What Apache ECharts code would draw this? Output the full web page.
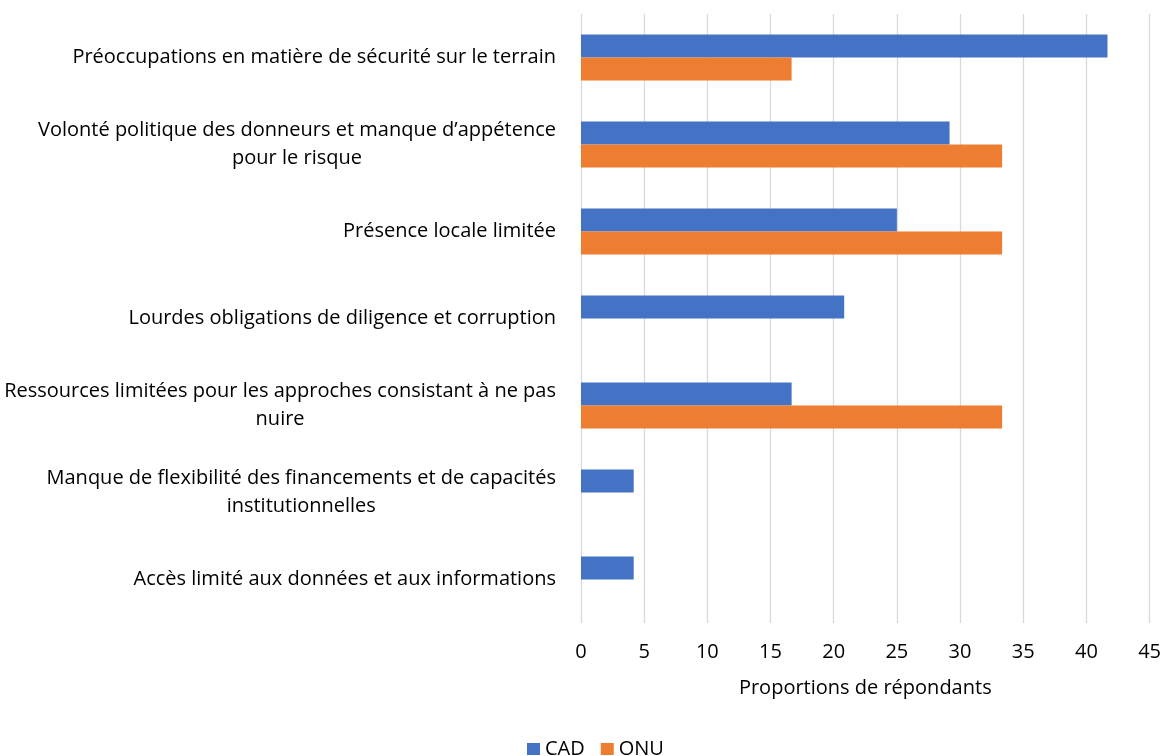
<!DOCTYPE html>
<html>
<head>
<meta charset="utf-8">
<script src="https://cdn.jsdelivr.net/npm/echarts@6/dist/echarts.min.js"></script>
<style>
  html, body { margin: 0; padding: 0; background: #fff; }
  #chart { width: 1164px; height: 756px; }
</style>
</head>
<body>
<div id="chart"></div>
<script>
// categories, top to bottom
var categories = [
    'Préoccupations en matière de sécurité sur le terrain',
    'Volonté politique des donneurs et manque d’appétence\npour le risque',
    'Présence locale limitée',
    'Lourdes obligations de diligence et corruption',
    'Ressources limitées pour les approches consistant à ne pas\nnuire',
    'Manque de flexibilité des financements et de capacités\ninstitutionnelles',
    'Accès limité aux données et aux informations'
]
var cadValues = [41.67, 29.17, 25, 20.83, 16.67, 4.17, 4.17]
var onuValues = [16.67, 33.33, 33.33, null, 33.33, null, null]
var seriesNames = ['CAD', 'ONU']
var axisName = 'Proportions de répondants'

var font = 'Open Sans'
var fontSize = 20

var chart = echarts.init(document.getElementById('chart'))
chart.setOption({
    animation: false,
    textStyle: { fontFamily: font },
    grid: {
        left: 581,
        right: 13,
        top: 14,
        bottom: 133,
        containLabel: false
    },
    legend: {
        data: seriesNames,
        left: 522,
        top: 734,
        icon: 'rect',
        itemWidth: 13,
        itemHeight: 12,
        itemGap: 16,
        textStyle: { fontSize: fontSize, color: '#000', fontFamily: font }
    },
    xAxis: {
        type: 'value',
        min: 0,
        max: 45,
        interval: 5,
        name: axisName,
        nameLocation: 'middle',
        nameGap: 55,
        nameTextStyle: { fontSize: fontSize, color: '#000', fontFamily: font },
        axisLine: { show: false },
        axisTick: { show: false },
        axisLabel: { fontSize: fontSize, color: '#000', margin: 19, fontFamily: font },
        splitLine: { lineStyle: { color: '#d9d9d9', width: 1.3 } }
    },
    yAxis: {
        type: 'category',
        inverse: true,
        data: categories,
        axisLine: { show: false },
        axisTick: { show: false },
        axisLabel: {
            margin: 25,
            color: '#000',
            fontSize: fontSize,
            lineHeight: 28,
            formatter: function (v) {
                return v.split('\n').map(function (s) { return '{c|' + s + '}' }).join('\n')
            },
            rich: {
                c: { align: 'center', fontSize: fontSize, lineHeight: 28, color: '#000', fontFamily: font }
            }
        }
    },
    series: [
        {
            name: seriesNames[0],
            type: 'bar',
            data: cadValues,
            barGap: '0%',
            barCategoryGap: '47%',
            itemStyle: { color: '#4472C4' }
        },
        {
            name: seriesNames[1],
            type: 'bar',
            data: onuValues,
            barGap: '0%',
            barCategoryGap: '47%',
            itemStyle: { color: '#ED7D31' }
        }
    ]
})
</script>
</body>
</html>
